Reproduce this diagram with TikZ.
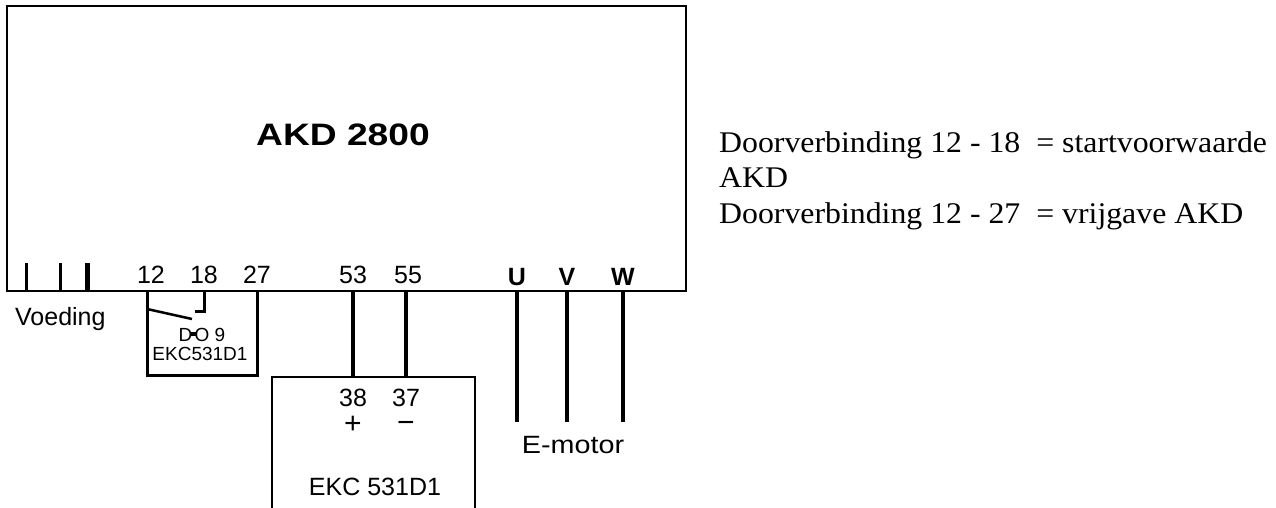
\documentclass[tikz,border=0pt]{standalone}
\usepackage{fontspec}
\setmainfont[FakeStretch=1.06]{Liberation Serif}
\newfontfamily\lab{Liberation Sans}
\newfontfamily\labw[FakeStretch=1.15]{Liberation Sans}
\newfontfamily\titlef[FakeStretch=1.2]{Liberation Sans}
\begin{document}
\begin{tikzpicture}[x=1pt,y=-1pt,
  lbl/.style={font=\lab\fontsize{25}{25}\selectfont,inner sep=0pt,anchor=base},
  slbl/.style={font=\lab\fontsize{19}{19}\selectfont,inner sep=0pt,anchor=base},
  blbl/.style={font=\lab\bfseries\fontsize{25}{25}\selectfont,inner sep=0pt,anchor=base},
  sign/.style={font=\lab\fontsize{30}{30}\selectfont,inner sep=0pt,anchor=base},
  note/.style={font=\fontsize{30}{35}\selectfont,inner sep=0pt,anchor=base west},
  wire/.style={line width=3.5pt},
  frame/.style={line width=2pt}]
\useasboundingbox (0,0) rectangle (1276,508);
% main box
\draw[frame] (7,6) rectangle (686,291);
\node[font=\titlef\bfseries\fontsize{31}{31}\selectfont,inner sep=0pt,anchor=base] (title) at (343,145) {AKD 2800};
% supply bars
\coordinate (b1t) at (26,263); \coordinate (b1b) at (26,291);
\coordinate (b2t) at (60,263); \coordinate (b2b) at (60,291);
\coordinate (b3t) at (87,263); \coordinate (b3b) at (87,291);
\draw[line width=3pt] (b1t) -- (b1b);
\draw[line width=3pt] (b2t) -- (b2b);
\draw[line width=5pt] (b3t) -- (b3b);
\node[lbl,anchor=base west] (voeding) at (15,325) {Voeding};
% terminal labels
\node[lbl] (l12) at (151,283) {12};
\node[lbl] (l18) at (204,283) {18};
\node[lbl] (l27) at (257,283) {27};
\node[lbl] (l53) at (353,283) {53};
\node[lbl] (l55) at (408,283) {55};
\node[blbl] (lu) at (517,285) {U};
\node[blbl] (lv) at (567,285) {V};
\node[blbl] (lw) at (623,285) {W};
% DO9 contact box
\coordinate (t12) at (147,291);
\coordinate (t18) at (204,291);
\coordinate (t27) at (257,291);
\coordinate (d12) at (147,375);
\coordinate (d27) at (257,375);
\coordinate (k18) at (204,311);
\coordinate (k18e) at (195,311);
\coordinate (sw0) at (147,309);
\coordinate (sw1) at (192,319);
\draw[line width=3pt,line join=miter] (t12) -- (d12) -- (d27) -- (t27);
\draw[line width=3pt] (t18) -- (k18) -- (k18e);
\draw[line width=2.5pt] (sw0) -- (sw1);
\node[slbl] (do9) at (202,341) {D\kern-1pt\rule[0.28em]{0.22em}{0.22em}\kern-1pt O 9};
\node[slbl] (ekcs) at (200,360) {EKC531D1};
% EKC box
\draw[frame] (272,510) -- (272,377) -- (475,377) -- (475,510);
\coordinate (t53) at (353,291); \coordinate (e38) at (353,377);
\coordinate (t55) at (406,291); \coordinate (e37) at (406,377);
\draw[wire] (t53) -- (e38);
\draw[wire] (t55) -- (e37);
\node[lbl] (l38) at (353,406) {38};
\node[lbl] (l37) at (406,406) {37};
\node[sign] (plus) at (353,433) {+};
\node[sign] (minus) at (406,432) {−};
\node[lbl] (ekc) at (375,495) {EKC 531D1};
% motor wires
\coordinate (tu) at (517,291); \coordinate (mu) at (517,422);
\coordinate (tv) at (567,291); \coordinate (mv) at (567,422);
\coordinate (tw) at (623,291); \coordinate (mw) at (623,422);
\draw[wire] (tu) -- (mu);
\draw[wire] (tv) -- (mv);
\draw[wire] (tw) -- (mw);
\node[lbl,font=\labw\fontsize{25}{25}\selectfont] (emotor) at (573,453) {E-motor};
% notes
\node[note] (n1) at (719,152) {Doorverbinding 12 - 18 \ = startvoorwaarde};
\node[note] (n2) at (719,187) {AKD};
\node[note] (n3) at (719,223) {Doorverbinding 12 - 27 \ = vrijgave AKD};
\end{tikzpicture}
\end{document}
